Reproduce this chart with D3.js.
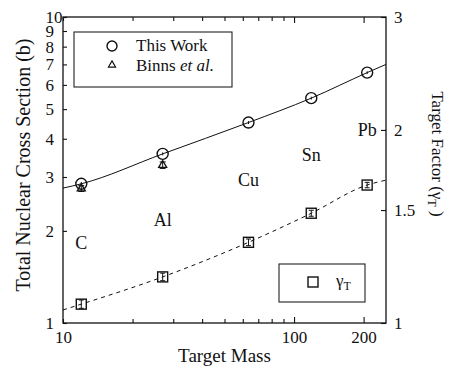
<!doctype html>
<html>
<head>
<meta charset="utf-8">
<script src="https://d3js.org/d3.v7.min.js"></script>
<style>
  body { margin: 0; background: #fff; }
  svg { display: block; font-family: "Liberation Serif", "Times New Roman", serif; }
</style>
</head>
<body>
<svg id="svg1"></svg>
<script>
// values
const targets = ["C", "Al", "Cu", "Sn", "Pb"];
const mass = [12, 27, 63.5, 118.7, 207.2];
const sigmaThisWork = [2.85, 3.57, 4.52, 5.43, 6.58];
const sigmaErr = [0.04, 0.04, 0.05, 0.06, 0.07];
const binnsMass = [12, 27];
const sigmaBinns = [2.75, 3.28];
const binnsErr = [0.06, 0.08];
const gammaT = [1.07, 1.18, 1.336, 1.483, 1.641];
const gammaErr = [0.016, 0.016, 0.016, 0.016, 0.016];
const fitMass = [10, 12, 27, 63.5, 118.7, 207.2, 250];
const fitSigma = [2.76, 2.85, 3.57, 4.52, 5.43, 6.58, 7.0];
const fitGamma = [1.048, 1.07, 1.18, 1.336, 1.483, 1.641, 1.67];
const labelSigma = [1.83, 2.17, 2.93, 3.54, 4.27];   // where the element names sit (left scale)
const xTicks = [10, 20, 30, 40, 50, 60, 70, 80, 90, 100, 200];
const xLabels = [10, 100, 200];
const yTicks = [1, 2, 3, 4, 5, 6, 7, 8, 9, 10];
const y2Ticks = [1, 1.5, 2, 3];

const width = 449, height = 372;
const margin = { top: 17, right: 63, bottom: 49, left: 63 };
const w = width - margin.left - margin.right;
const h = height - margin.top - margin.bottom;

const svg = d3.select("#svg1").attr("width", width).attr("height", height);
const g = svg.append("g").attr("transform", `translate(${margin.left},${margin.top})`);

const x = d3.scaleLog().domain([10, 250]).range([0, w]);
const y = d3.scaleLog().domain([1, 10]).range([h, 0]);
const y2 = d3.scaleLog().domain([1, 3]).range([h, 0]);

// axes, ticks pointing inward
const bottomAx = g.append("g").attr("transform", `translate(0,${h})`)
  .call(d3.axisBottom(x).tickValues(xTicks).tickSize(-4).tickPadding(8)
    .tickFormat(d => xLabels.includes(d) ? d : ""));
const topAx = g.append("g")
  .call(d3.axisTop(x).tickValues(xTicks).tickSize(-4).tickFormat(""));
bottomAx.selectAll(".tick line").filter(d => d >= 100).attr("y2", -6);
topAx.selectAll(".tick line").filter(d => d >= 100).attr("y2", 6);

const leftAx = g.append("g")
  .call(d3.axisLeft(y).tickValues(yTicks).tickSize(-4).tickFormat(d3.format("d")));
leftAx.selectAll("text").attr("text-anchor", "start").attr("x", -17.5);

const rightAx = g.append("g").attr("transform", `translate(${w},0)`)
  .call(d3.axisRight(y2).tickValues(y2Ticks).tickSize(-5).tickPadding(8)
    .tickFormat(d => d));

[bottomAx, topAx, leftAx, rightAx].forEach(a => {
  a.select(".domain").remove();
  a.selectAll("text").attr("font-size", 17).attr("font-family", "Liberation Serif").attr("fill", "#111");
  a.selectAll("line").attr("stroke", "#111").attr("stroke-width", 1.1);
});

g.append("rect").attr("width", w).attr("height", h)
  .attr("fill", "none").attr("stroke", "#111").attr("stroke-width", 1.3);

// fit curves
const fitLine = d3.line().curve(d3.curveMonotoneX);
g.append("path")
  .attr("d", fitLine(fitMass.map((m, i) => [x(m), y(fitSigma[i])])))
  .attr("fill", "none").attr("stroke", "#111").attr("stroke-width", 1);
g.append("path")
  .attr("d", fitLine(fitMass.map((m, i) => [x(m), y2(fitGamma[i])])))
  .attr("fill", "none").attr("stroke", "#111").attr("stroke-width", 1)
  .attr("stroke-dasharray", "4,4");

// this work: circles
mass.forEach((m, i) => {
  const cx = x(m), cy = y(sigmaThisWork[i]);
  g.append("line").attr("x1", cx).attr("x2", cx)
    .attr("y1", y(sigmaThisWork[i] - sigmaErr[i])).attr("y2", y(sigmaThisWork[i] + sigmaErr[i]))
    .attr("stroke", "#111");
  g.append("circle").attr("cx", cx).attr("cy", cy).attr("r", 5.5)
    .attr("fill", "none").attr("stroke", "#111").attr("stroke-width", 1.4);
});

// Binns et al.: triangles with error bars
const tri = d3.symbol().type(d3.symbolTriangle).size(28);
binnsMass.forEach((m, i) => {
  const cx = x(m), cy = y(sigmaBinns[i]);
  const y0 = y(sigmaBinns[i] - binnsErr[i]), y1 = y(sigmaBinns[i] + binnsErr[i]);
  g.append("line").attr("x1", cx).attr("x2", cx).attr("y1", y0).attr("y2", y1).attr("stroke", "#111");
  [y0, y1].forEach(yy => g.append("line").attr("x1", cx - 3).attr("x2", cx + 3)
    .attr("y1", yy).attr("y2", yy).attr("stroke", "#111"));
  g.append("path").attr("d", tri).attr("transform", `translate(${cx},${cy})`)
    .attr("fill", "none").attr("stroke", "#111").attr("stroke-width", 1.3);
});

// gamma_T: squares with error bars
mass.forEach((m, i) => {
  const cx = x(m), cy = y2(gammaT[i]);
  const y0 = y2(gammaT[i] - gammaErr[i]), y1 = y2(gammaT[i] + gammaErr[i]);
  g.append("line").attr("x1", cx).attr("x2", cx).attr("y1", y0).attr("y2", y1).attr("stroke", "#111");
  [y0, y1].forEach(yy => g.append("line").attr("x1", cx - 2.5).attr("x2", cx + 2.5)
    .attr("y1", yy).attr("y2", yy).attr("stroke", "#111"));
  g.append("rect").attr("x", cx - 5).attr("y", cy - 5).attr("width", 10).attr("height", 10)
    .attr("fill", "none").attr("stroke", "#111").attr("stroke-width", 1.4);
});

// element names
g.selectAll(".elem").data(targets).join("text")
  .attr("x", (d, i) => x(mass[i])).attr("y", (d, i) => y(labelSigma[i]))
  .attr("dy", "0.35em").attr("text-anchor", "middle")
  .attr("font-size", 18).attr("fill", "#111").text(d => d);

// legend 1
svg.append("rect").attr("x", 74).attr("y", 32).attr("width", 158).attr("height", 55)
  .attr("fill", "#fff").attr("stroke", "#222").attr("stroke-width", 1.1);
svg.append("circle").attr("cx", 112).attr("cy", 46).attr("r", 5)
  .attr("fill", "none").attr("stroke", "#111").attr("stroke-width", 1.4);
svg.append("path").attr("d", d3.symbol().type(d3.symbolTriangle).size(22))
  .attr("transform", "translate(112,65)")
  .attr("fill", "none").attr("stroke", "#111").attr("stroke-width", 1.2);
svg.append("text").attr("x", 136).attr("y", 51).attr("font-size", 17).attr("fill", "#111").text("This Work");
const binns = svg.append("text").attr("x", 136).attr("y", 71).attr("font-size", 17).attr("fill", "#111");
binns.append("tspan").text("Binns ");
binns.append("tspan").attr("font-style", "italic").text("et al.");

// legend 2
svg.append("rect").attr("x", 279).attr("y", 264).attr("width", 86).attr("height", 38)
  .attr("fill", "#fff").attr("stroke", "#222").attr("stroke-width", 1.1);
svg.append("rect").attr("x", 308).attr("y", 277).attr("width", 10).attr("height", 10)
  .attr("fill", "none").attr("stroke", "#111").attr("stroke-width", 1.4);
const gl = svg.append("text").attr("x", 336).attr("y", 286).attr("font-size", 17).attr("fill", "#111");
gl.append("tspan").text("γ");
gl.append("tspan").attr("font-size", 12).attr("dy", 4).text("T");

// axis titles
svg.append("text").attr("x", margin.left + w / 2).attr("y", 362)
  .attr("text-anchor", "middle").attr("font-size", 19).attr("fill", "#111").text("Target Mass");
svg.append("text").attr("transform", "translate(30,165) rotate(-90)")
  .attr("text-anchor", "middle").attr("font-size", 20).attr("fill", "#111")
  .text("Total Nuclear Cross Section (b)");
const rt = svg.append("text").attr("transform", "translate(432,154) rotate(90)")
  .attr("text-anchor", "middle").attr("font-size", 17).attr("fill", "#111");
rt.append("tspan").text("Target Factor (γ");
rt.append("tspan").attr("font-size", 12).attr("dy", 4).text("T");
rt.append("tspan").attr("dy", -4).text(" )");
</script>
</body>
</html>
